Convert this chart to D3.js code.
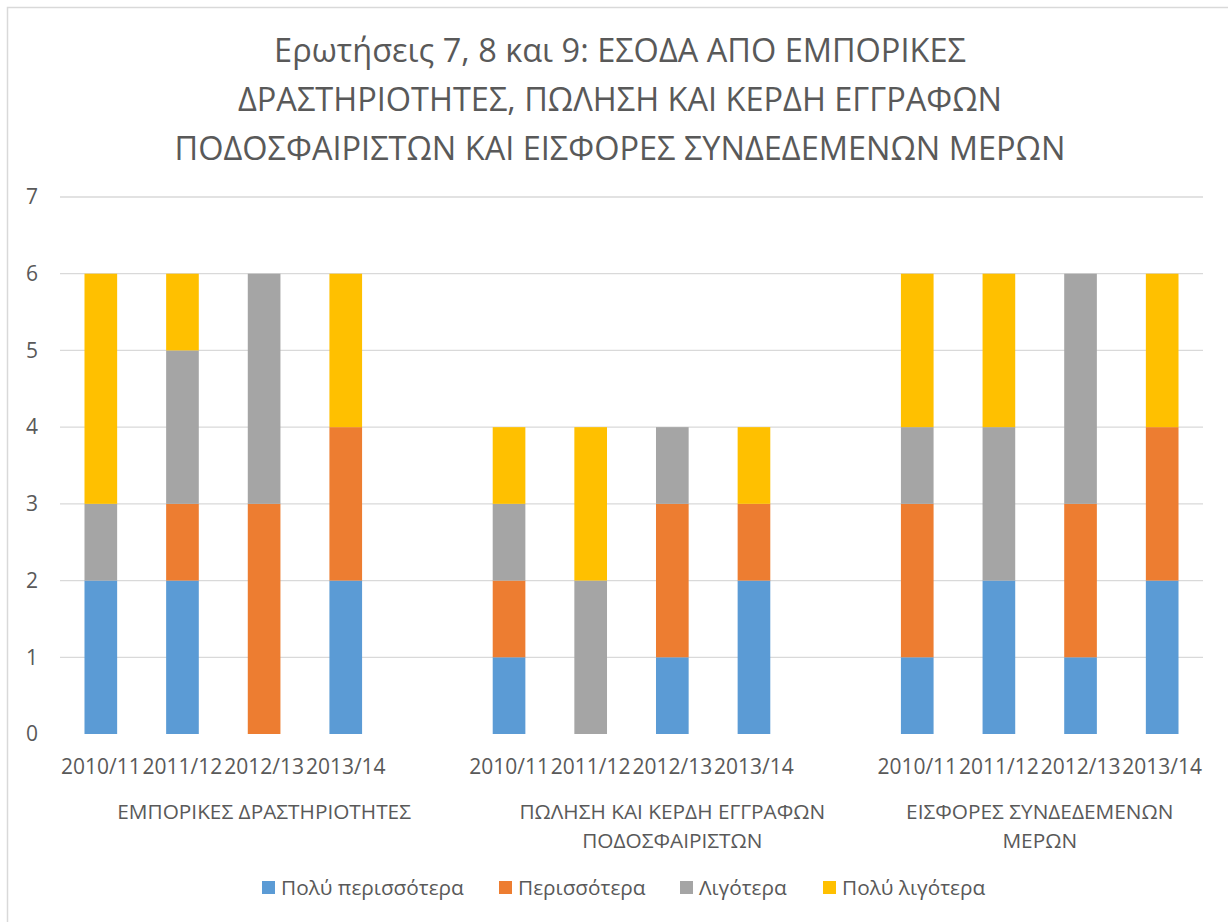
<!DOCTYPE html>
<html>
<head>
<meta charset="utf-8">
<script src="https://cdn.jsdelivr.net/npm/d3@7"></script>
<style>
	body { margin: 0; background: #fff; }
	text { font-family: "Open Sans", sans-serif; fill: #595959; }
</style>
</head>
<body>
<svg id="chart" width="1228" height="922" viewBox="0 0 1228 922"></svg>
<script>
// chart values
const titleLines = [
	"Ερωτήσεις 7, 8 και 9: ΕΣΟΔΑ ΑΠΟ ΕΜΠΟΡΙΚΕΣ",
	"ΔΡΑΣΤΗΡΙΟΤΗΤΕΣ, ΠΩΛΗΣΗ ΚΑΙ ΚΕΡΔΗ ΕΓΓΡΑΦΩΝ",
	"ΠΟΔΟΣΦΑΙΡΙΣΤΩΝ ΚΑΙ ΕΙΣΦΟΡΕΣ ΣΥΝΔΕΔΕΜΕΝΩΝ ΜΕΡΩΝ"
];
const groups = [
	["ΕΜΠΟΡΙΚΕΣ ΔΡΑΣΤΗΡΙΟΤΗΤΕΣ"],
	["ΠΩΛΗΣΗ ΚΑΙ ΚΕΡΔΗ ΕΓΓΡΑΦΩΝ", "ΠΟΔΟΣΦΑΙΡΙΣΤΩΝ"],
	["ΕΙΣΦΟΡΕΣ ΣΥΝΔΕΔΕΜΕΝΩΝ", "ΜΕΡΩΝ"]
];
const seasons = ["2010/11", "2011/12", "2012/13", "2013/14"];
const seriesNames = ["Πολύ περισσότερα", "Περισσότερα", "Λιγότερα", "Πολύ λιγότερα"];
const seriesColors = ["#5b9bd5", "#ed7d31", "#a5a5a5", "#ffc000"];

// one row per group, one value per season
const polyPerissotera = [[2, 2, 0, 2], [1, 0, 1, 2], [1, 2, 1, 2]];
const perissotera     = [[0, 1, 3, 2], [1, 0, 2, 1], [2, 0, 2, 2]];
const ligotera        = [[1, 2, 3, 0], [1, 2, 1, 0], [1, 2, 3, 0]];
const polyLigotera    = [[3, 1, 0, 2], [1, 2, 0, 1], [2, 2, 0, 2]];
const yTicks = [0, 1, 2, 3, 4, 5, 6, 7];

const svg = d3.select("#chart");

// outer chart border
svg.append("rect")
	.attr("x", 7.5).attr("y", 7.5)
	.attr("width", 1240).attr("height", 940)
	.attr("fill", "none").attr("stroke", "#d9d9d9").attr("stroke-width", 1.5);

const margin = {left: 60, right: 1203, top: 197, bottom: 734};

// flat rows, with a blank slot between groups
const rows = [];
const slots = [];
const groupSlots = [];
groups.forEach((g, gi) => {
	const mine = [];
	seasons.forEach((s, si) => {
		const key = gi + "|" + s;
		slots.push(key);
		mine.push(key);
		rows.push({
			key: key, group: gi, season: s,
			v0: polyPerissotera[gi][si], v1: perissotera[gi][si],
			v2: ligotera[gi][si], v3: polyLigotera[gi][si]
		});
	});
	if (gi < groups.length - 1) {
		slots.push("gap" + gi);
		mine.push("gap" + gi);
	}
	groupSlots.push(mine);
});

const x = d3.scaleBand()
	.domain(slots)
	.range([margin.left, margin.right])
	.paddingInner(0.6)
	.paddingOuter(0.3);
const mid = k => x(k) + x.bandwidth() / 2;

const y = d3.scaleLinear().domain([0, 7]).range([margin.bottom, margin.top]);

// gridlines
svg.append("g")
	.selectAll("line")
	.data(yTicks.filter(d => d > 0))
	.join("line")
	.attr("x1", margin.left).attr("x2", margin.right)
	.attr("y1", d => y(d)).attr("y2", d => y(d))
	.attr("stroke", "#d9d9d9").attr("stroke-width", 1.3);

// y axis labels
const yAxis = svg.append("g")
	.attr("transform", `translate(${margin.left - 22},0)`)
	.call(d3.axisLeft(y).tickValues(yTicks).tickFormat(d3.format("d")).tickSize(0).tickPadding(0));
yAxis.select(".domain").remove();
yAxis.selectAll("text")
	.style("font-family", "'Open Sans', sans-serif")
	.style("font-size", "21px")
	.attr("fill", "#595959");

// stacked bars
const keys = ["v0", "v1", "v2", "v3"];
const stack = d3.stack().keys(keys)(rows);

svg.append("g")
	.selectAll("g")
	.data(stack)
	.join("g")
	.attr("fill", (d, i) => seriesColors[i])
	.selectAll("rect")
	.data(d => d.filter(p => p[1] > p[0]))
	.join("rect")
	.attr("x", d => x(d.data.key))
	.attr("width", x.bandwidth())
	.attr("y", d => y(d[1]))
	.attr("height", d => y(d[0]) - y(d[1]));

// season labels
svg.append("g")
	.selectAll("text")
	.data(rows)
	.join("text")
	.attr("x", d => mid(d.key))
	.attr("y", 773.5)
	.attr("text-anchor", "middle")
	.style("font-size", "21px")
	.text(d => d.season);

// group labels, centred on the group's slots (gap slot included)
groups.forEach((lines, gi) => {
	const ks = groupSlots[gi];
	const left = mid(ks[0]) - x.step() / 2;
	const right = mid(ks[ks.length - 1]) + x.step() / 2;
	const cx = (left + right) / 2;
	svg.append("text")
		.attr("x", cx)
		.attr("y", 818.5)
		.attr("text-anchor", "middle")
		.style("font-size", "20.8px")
		.selectAll("tspan")
		.data(lines)
		.join("tspan")
		.attr("x", cx)
		.attr("dy", (d, i) => i === 0 ? 0 : 29)
		.text(d => d);
});

// title
svg.append("text")
	.attr("x", 620)
	.attr("y", 62)
	.attr("text-anchor", "middle")
	.style("font-size", "32.5px")
	.selectAll("tspan")
	.data(titleLines)
	.join("tspan")
	.attr("x", 620)
	.attr("dy", (d, i) => i === 0 ? 0 : 49)
	.text(d => d);

// legend
const legendX = [262, 499, 680, 823];
const legend = svg.append("g")
	.selectAll("g")
	.data(seriesNames)
	.join("g")
	.attr("transform", (d, i) => `translate(${legendX[i]},888)`);
legend.append("rect")
	.attr("y", -7).attr("width", 13).attr("height", 13)
	.attr("fill", (d, i) => seriesColors[i]);
legend.append("text")
	.attr("x", 19).attr("y", 7)
	.style("font-size", "20.8px")
	.text(d => d);
</script>
</body>
</html>
